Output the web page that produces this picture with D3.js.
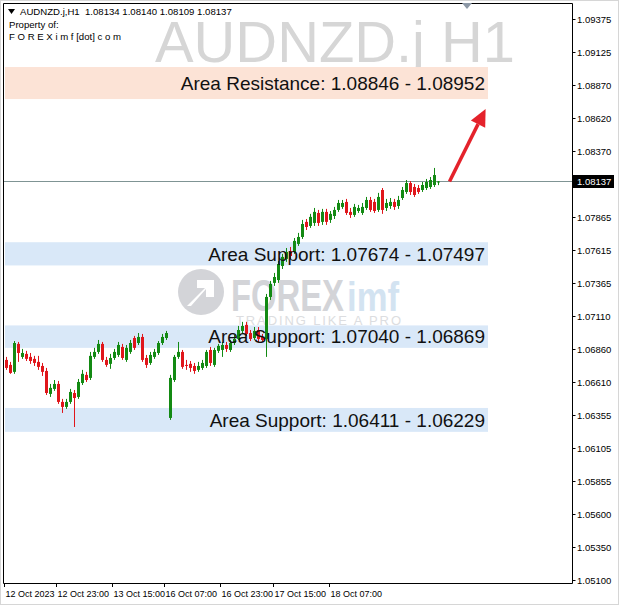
<!DOCTYPE html>
<html><head><meta charset="utf-8">
<script src="https://cdn.jsdelivr.net/npm/d3@7"></script>
<style>html,body{margin:0;padding:0;background:#fff;}svg{display:block;}</style>
</head><body>
<script>
// ---- data ----
const symbol = "AUDNZD.j,H1";
const lastOHLC = ["1.08134","1.08140","1.08109","1.08137"];
const watermark = "AUDNZD.j H1";
const currentPrice = 1.08137;
const open = [
1.06777,1.06739,1.06686,1.06899,1.06800,1.06823,1.06800,1.06785,1.06762,1.06731,
1.06693,1.06518,1.06556,1.06594,1.06457,1.06419,1.06457,1.06525,1.06495,1.06601,
1.06663,1.06640,1.06800,1.06838,1.06899,1.06777,1.06747,1.06792,1.06815,1.06876,
1.06777,1.06838,1.06944,1.06906,1.06952,1.06792,1.06754,1.06800,1.06830,1.06906,
1.06944,1.06335,1.06624,1.06800,1.06838,1.06739,1.06747,1.06731,1.06701,1.06716,
1.06731,1.06853,1.06739,1.06846,1.06853,1.06891,1.06853,1.06906,1.06937,1.06998,
1.07044,1.06982,1.06944,1.07005,1.06952,1.06937,1.07257,1.07364,1.07386,1.07493,
1.07547,1.07607,1.07600,1.07661,1.07714,1.07829,1.07798,1.07821,1.07897,1.07829,
1.07905,1.07844,1.07874,1.07920,1.07943,1.07981,1.07905,1.07882,1.07912,1.07897,
1.07935,1.07996,1.07981,1.07920,1.08072,1.07935,1.07950,1.07981,1.07950,1.08011,
1.08057,1.08125,1.08095,1.08087,1.08072,1.08087,1.08095,1.08110,1.08134];
const high = [
1.06800,1.06762,1.06921,1.06914,1.06861,1.06846,1.06830,1.06808,1.06808,1.06754,
1.06716,1.06594,1.06624,1.06617,1.06480,1.06480,1.06556,1.06548,1.06632,1.06701,
1.06686,1.06838,1.06869,1.06929,1.06914,1.06800,1.06823,1.06861,1.06914,1.06899,
1.06891,1.06929,1.06960,1.06982,1.06975,1.06815,1.06838,1.06861,1.06921,1.06975,
1.06998,1.06663,1.06815,1.06914,1.06853,1.06777,1.06769,1.06754,1.06762,1.06777,
1.06853,1.06876,1.06869,1.06899,1.06914,1.06914,1.06929,1.06967,1.07036,1.07067,
1.07067,1.07005,1.07028,1.07028,1.06975,1.07280,1.07379,1.07440,1.07531,1.07585,
1.07630,1.07638,1.07706,1.07745,1.07844,1.07851,1.07890,1.07935,1.07920,1.07928,
1.07928,1.07912,1.07943,1.07996,1.07996,1.08004,1.07935,1.07966,1.07958,1.07973,
1.08019,1.08019,1.08004,1.08050,1.08087,1.08004,1.08011,1.08004,1.08027,1.08095,
1.08148,1.08140,1.08118,1.08110,1.08133,1.08156,1.08171,1.08240,1.08140];
const low = [
1.06701,1.06671,1.06671,1.06762,1.06785,1.06769,1.06747,1.06731,1.06701,1.06655,
1.06510,1.06495,1.06541,1.06442,1.06373,1.06404,1.06442,1.06266,1.06480,1.06586,
1.06609,1.06624,1.06785,1.06823,1.06762,1.06724,1.06709,1.06777,1.06800,1.06777,
1.06762,1.06823,1.06853,1.06891,1.06762,1.06716,1.06739,1.06785,1.06815,1.06891,
1.06929,1.06320,1.06609,1.06785,1.06709,1.06701,1.06686,1.06671,1.06686,1.06701,
1.06716,1.06731,1.06724,1.06830,1.06800,1.06838,1.06838,1.06891,1.06929,1.06982,
1.06960,1.06921,1.06929,1.06914,1.06914,1.06800,1.07234,1.07341,1.07364,1.07470,
1.07524,1.07547,1.07585,1.07646,1.07699,1.07767,1.07783,1.07798,1.07798,1.07806,
1.07806,1.07821,1.07851,1.07905,1.07928,1.07882,1.07859,1.07867,1.07897,1.07882,
1.07920,1.07905,1.07897,1.07905,1.07890,1.07912,1.07928,1.07920,1.07928,1.07996,
1.08042,1.08034,1.08019,1.08042,1.08057,1.08072,1.08080,1.08095,1.08109];
const close = [
1.06716,1.06678,1.06906,1.06830,1.06830,1.06785,1.06769,1.06754,1.06724,1.06686,
1.06525,1.06564,1.06594,1.06457,1.06419,1.06457,1.06533,1.06487,1.06609,1.06671,
1.06624,1.06808,1.06838,1.06899,1.06777,1.06739,1.06792,1.06838,1.06891,1.06792,
1.06869,1.06906,1.06869,1.06952,1.06777,1.06739,1.06815,1.06838,1.06906,1.06952,
1.06982,1.06640,1.06800,1.06838,1.06724,1.06731,1.06716,1.06693,1.06731,1.06754,
1.06838,1.06754,1.06853,1.06884,1.06891,1.06861,1.06906,1.06937,1.07005,1.07036,
1.06975,1.06937,1.06998,1.06937,1.06929,1.07257,1.07356,1.07409,1.07508,1.07562,
1.07600,1.07569,1.07684,1.07714,1.07813,1.07790,1.07867,1.07905,1.07821,1.07905,
1.07829,1.07890,1.07920,1.07973,1.07973,1.07897,1.07882,1.07943,1.07935,1.07943,
1.07996,1.07920,1.07912,1.08019,1.07920,1.07973,1.07981,1.07943,1.07996,1.08072,
1.08125,1.08057,1.08034,1.08057,1.08110,1.08133,1.08148,1.08186,1.08137];
const yTickValues = ["1.09375","1.09125","1.08870","1.08620","1.08370","1.07865","1.07615","1.07365","1.07110","1.06860","1.06610","1.06355","1.06105","1.05855","1.05600","1.05350","1.05100"];
const xTickLabels = ["12 Oct 2023","12 Oct 23:00","13 Oct 15:00","16 Oct 07:00","16 Oct 23:00","17 Oct 15:00","18 Oct 07:00"];
const xTickBars = [0,13,27,40,54,67,81];
const zoneNames = ["Area Resistance","Area Support","Area Support","Area Support"];
const zoneLabelLow = ["1.08846","1.07674","1.07040","1.06411"];
const zoneLabelHigh = ["1.08952","1.07497","1.06869","1.06229"];
const zoneTop = [1.09009,1.07674,1.07040,1.06411];
const zoneBottom = [1.08765,1.07497,1.06869,1.06229];
const zoneKind = ["res","sup","sup","sup"];
const arrowFrom = [108, 1.08137];
const arrowTo = [120, 1.08690];

// ---- layout ----
const W = 620, H = 606;
const plot = {l: 3, r: 572, t: 3, b: 583};
const svg = d3.select("body").append("svg").attr("width", W).attr("height", H)
  .style("font-family", "'Liberation Sans', Arial, sans-serif");

const idx = d3.range(open.length);
const x = d3.scaleBand().domain(idx).range([4, 4 + 4 * open.length]).paddingInner(0.25);
const xl = d3.scaleLinear().domain([0, open.length - 1]).range([x(0) + x.bandwidth()/2, x(open.length-1) + x.bandwidth()/2]);
const y = d3.scaleLinear().domain([1.05100, 1.09375]).range([580, 19]);

// outer frame
svg.append("rect").attr("x", 0.5).attr("y", 0.5).attr("width", W - 2).attr("height", H - 2)
  .attr("fill", "#fff").attr("stroke", "#d6d6d6");

// watermark title
svg.append("text").attr("x", 155).attr("y", 62).text(watermark)
  .attr("font-size", 58).attr("textLength", 360).attr("lengthAdjust", "spacingAndGlyphs").attr("fill", "#d6d6d6");

// logo watermark
const logo = svg.append("g");
logo.append("circle").attr("cx", 201).attr("cy", 292).attr("r", 23).attr("fill", "#d3d4d8");
logo.append("path").attr("d", "M187,306 L205,288 L197,288 L197,280 L214,280 L214,297 L206,297 L206,289 L191,306 Z").attr("fill", "#fff");
logo.append("text").attr("x", 231).attr("y", 311).text("FOREX").attr("font-size", 44).attr("font-weight", "bold")
  .attr("textLength", 113).attr("lengthAdjust", "spacingAndGlyphs").attr("fill", "#d3d4d8");
logo.append("text").attr("x", 347).attr("y", 311).text("imf").attr("font-size", 40).attr("font-weight", "bold")
  .attr("textLength", 52).attr("lengthAdjust", "spacingAndGlyphs").attr("fill", "#d3e3f1");
logo.append("text").attr("x", 236).attr("y", 325).text("TRADING LIKE A PRO").attr("font-size", 13)
  .attr("textLength", 165).attr("lengthAdjust", "spacing").attr("fill", "#dcdde0");

// zones
const zones = svg.append("g");
zoneTop.forEach((t, i) => {
  zones.append("rect").attr("x", 5).attr("width", 483)
    .attr("y", y(t)).attr("height", y(zoneBottom[i]) - y(t))
    .attr("fill", zoneKind[i] === "res" ? "#fce3d6" : "#d9e8f8");
});

// current price line
svg.append("line").attr("x1", plot.l).attr("x2", plot.r).attr("y1", Math.round(y(currentPrice)) + 0.5).attr("y2", Math.round(y(currentPrice)) + 0.5)
  .attr("stroke", "#7f9494").attr("stroke-width", 1);

// candles
const cg = svg.append("g");
idx.forEach(i => {
  const up = close[i] >= open[i];
  const col = up ? "#138a13" : "#e0161b";
  const cx = Math.round(x(i) + x.bandwidth()/2) + 0.5;
  cg.append("line").attr("x1", cx).attr("x2", cx).attr("y1", y(high[i])).attr("y2", y(low[i])).attr("stroke", col).attr("stroke-width", 1);
  const top = y(Math.max(open[i], close[i])), bot = y(Math.min(open[i], close[i]));
  cg.append("rect").attr("x", cx - 1.5).attr("width", 3).attr("y", top).attr("height", Math.max(1, bot - top)).attr("fill", col);
});

// zone labels
zoneTop.forEach((t, i) => {
  svg.append("text").attr("x", 485).attr("y", (y(t) + y(zoneBottom[i]))/2).attr("dy", "0.36em")
    .attr("text-anchor", "end").attr("font-size", 19).attr("fill", "#111")
    .text(`${zoneNames[i]}: ${zoneLabelLow[i]} - ${zoneLabelHigh[i]}`);
});

// arrow
const ax1 = xl(arrowFrom[0]) + 11, ay1 = y(arrowFrom[1]);
const ax2 = xl(arrowTo[0]) - 1, ay2 = y(arrowTo[1]);
const ang = Math.atan2(ay2 - ay1, ax2 - ax1);
const hl = 17, hw = 8;
const bx = ax2 - hl * Math.cos(ang), by = ay2 - hl * Math.sin(ang);
svg.append("line").attr("x1", ax1).attr("y1", ay1).attr("x2", bx).attr("y2", by).attr("stroke", "#e4222b").attr("stroke-width", 3.5);
svg.append("path").attr("d", `M${ax2},${ay2} L${bx + hw*Math.sin(ang)},${by - hw*Math.cos(ang)} L${bx - hw*Math.sin(ang)},${by + hw*Math.cos(ang)} Z`).attr("fill", "#e4222b");

// plot frame
svg.append("path").attr("d", `M${plot.l+0.5},${plot.b+0.5} V${plot.t+0.5} H${plot.r+0.5} V${plot.b+0.5} H${plot.l+0.5}`)
  .attr("fill", "none").attr("stroke", "#000").attr("stroke-width", 1);

// shift marker
svg.append("path").attr("d", "M462,3 L472,3 L467,9 Z").attr("fill", "#8c98a6");

// y axis ticks
const axFont = "'Liberation Sans', Arial, sans-serif";
const ya = svg.append("g").attr("font-family", axFont).attr("fill", "#000");
yTickValues.forEach(v => {
  const yy = Math.round(y(+v)) + 0.5;
  ya.append("line").attr("x1", plot.r + 0.5).attr("x2", plot.r + 3.5).attr("y1", yy).attr("y2", yy).attr("stroke", "#000");
  ya.append("text").attr("x", 577).attr("y", yy).attr("dy", "0.36em").text(v).attr("font-size", 9.5);
});
// current price tag
const cpY = Math.round(y(currentPrice)) + 0.5;
svg.append("rect").attr("x", 573).attr("y", cpY - 6.5).attr("width", 41).attr("height", 13).attr("fill", "#000");
svg.append("text").attr("x", 577).attr("y", cpY).attr("dy", "0.36em").text(currentPrice.toFixed(5))
  .attr("font-size", 9.5).attr("font-family", axFont).attr("fill", "#fff");

// x axis ticks
const xa = svg.append("g").attr("font-family", axFont);
xTickBars.forEach((b, k) => {
  const xx = Math.round(x(b)) + 0.5;
  xa.append("line").attr("x1", xx).attr("x2", xx).attr("y1", plot.b + 0.5).attr("y2", plot.b + 4).attr("stroke", "#000");
  xa.append("text").attr("x", xx + 1).attr("y", 597).text(xTickLabels[k]).attr("font-size", 9).attr("fill", "#000");
});

// header
const hd = svg.append("g").attr("font-family", axFont).attr("font-size", 9.6).attr("fill", "#000");
hd.append("path").attr("d", "M8,9 L15,9 L11.5,14 Z").attr("fill", "#000");
hd.append("text").attr("x", 20).attr("y", 15).text(symbol + "\u00a0\u00a0" + lastOHLC.join(" "));
hd.append("text").attr("x", 9).attr("y", 28).text("Property of:");
hd.append("text").attr("x", 9).attr("y", 40).text("F O R E X i m f [dot] c o m");
</script>
</body></html>
